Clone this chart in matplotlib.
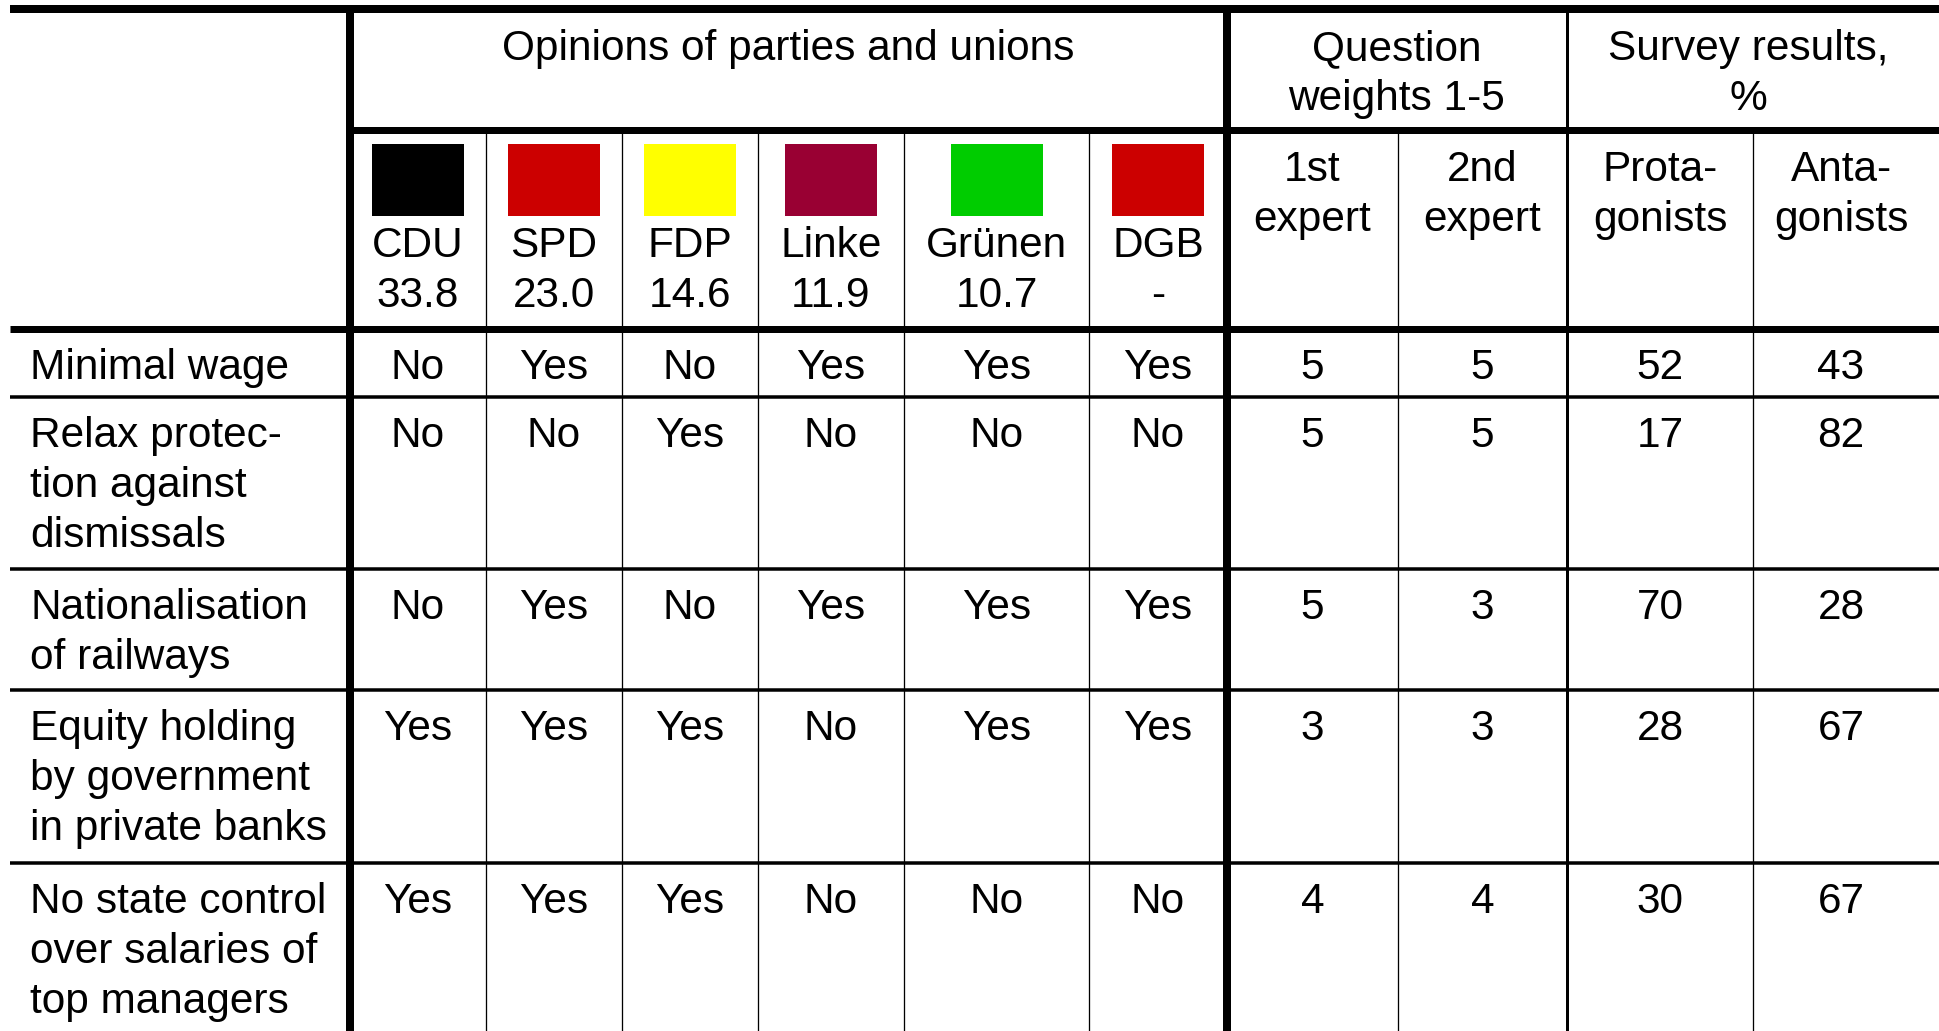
import matplotlib
matplotlib.use("Agg")
import matplotlib.pyplot as plt
from matplotlib.patches import Rectangle

plt.rcParams['font.family'] = ['Liberation Sans', 'DejaVu Sans']

# data
questions = ["Minimal wage",
             "Relax protec-\ntion against\ndismissals",
             "Nationalisation\nof railways",
             "Equity holding\nby government\nin private banks",
             "No state control\nover salaries of\ntop managers"]
parties = ["CDU", "SPD", "FDP", "Linke", "Grünen", "DGB"]
votes = ["33.8", "23.0", "14.6", "11.9", "10.7", "-"]
party_colors = ["#000000", "#cc0000", "#ffff00", "#990033", "#00cc00", "#cc0000"]
opinions = [["No", "Yes", "No", "Yes", "Yes", "Yes"],
            ["No", "No", "Yes", "No", "No", "No"],
            ["No", "Yes", "No", "Yes", "Yes", "Yes"],
            ["Yes", "Yes", "Yes", "No", "Yes", "Yes"],
            ["Yes", "Yes", "Yes", "No", "No", "No"]]
weight_1st = [5, 5, 5, 3, 4]
weight_2nd = [5, 5, 3, 3, 4]
protagonists = [52, 17, 70, 28, 30]
antagonists = [43, 82, 28, 67, 67]

groups = ["Opinions of parties and unions", "Question\nweights 1-5", "Survey results,\n%"]
subheads = ["1st\nexpert", "2nd\nexpert", "Prota-\ngonists", "Anta-\ngonists"]

# layout in pixels
W, H = 1939, 1031
col_x = [10, 350, 486, 622, 758, 904, 1089, 1227, 1398, 1567, 1753, 1929]
row_y = [329, 397, 569, 690, 863, 1031]
FS = 30.5
STEP = 50

fig = plt.figure(figsize=(W / 100, H / 100), dpi=100)
ax = fig.add_axes([0, 0, 1, 1])
ax.set_xlim(0, W)
ax.set_ylim(H, 0)
ax.axis('off')

def px(w):
    return w * 72 / 100

def put(x, y, s, ha='center'):
    for i, line in enumerate(s.split("\n")):
        ax.text(x, y + i * STEP, line, ha=ha, va='baseline', fontsize=FS, color='black')

def mid(i):
    return (col_x[i] + col_x[i + 1]) / 2

# lines
ax.plot([10, W], [9, 9], color='black', lw=px(8), solid_capstyle='butt')
ax.plot([350, W], [130, 130], color='black', lw=px(7), solid_capstyle='butt')
ax.plot([10, W], [row_y[0], row_y[0]], color='black', lw=px(7), solid_capstyle='butt')
for y in row_y[1:-1]:
    ax.plot([10, W], [y, y], color='black', lw=px(3.5), solid_capstyle='butt')
for x in [350, 1227]:
    ax.plot([x, x], [5, H], color='black', lw=px(8), solid_capstyle='butt')
ax.plot([1567, 1567], [5, H], color='black', lw=px(3), solid_capstyle='butt')
for x in col_x[2:7] + [1398, 1753]:
    ax.plot([x, x], [130, H], color='black', lw=px(1.3), solid_capstyle='butt')

# group headers
put((col_x[1] + col_x[7]) / 2, 60, groups[0])
put((col_x[7] + col_x[9]) / 2, 60, groups[1])
put((col_x[9] + col_x[11]) / 2, 60, groups[2])

# party headers
for j, (p, v, c) in enumerate(zip(parties, votes, party_colors)):
    cx = mid(j + 1)
    ax.add_patch(Rectangle((cx - 46, 144), 92, 72, facecolor=c, edgecolor='none'))
    put(cx, 257, p + "\n" + v)

for k, s in enumerate(subheads):
    put(mid(7 + k), 181, s)

# body
for i, q in enumerate(questions):
    by = row_y[i] + 50
    put(30, by, q, ha='left')
    for j, o in enumerate(opinions[i]):
        put(mid(j + 1), by, o)
    vals = [weight_1st[i], weight_2nd[i], protagonists[i], antagonists[i]]
    for k, v in enumerate(vals):
        put(mid(7 + k), by, str(v))

fig.savefig("out.png", dpi=100, facecolor='white')
